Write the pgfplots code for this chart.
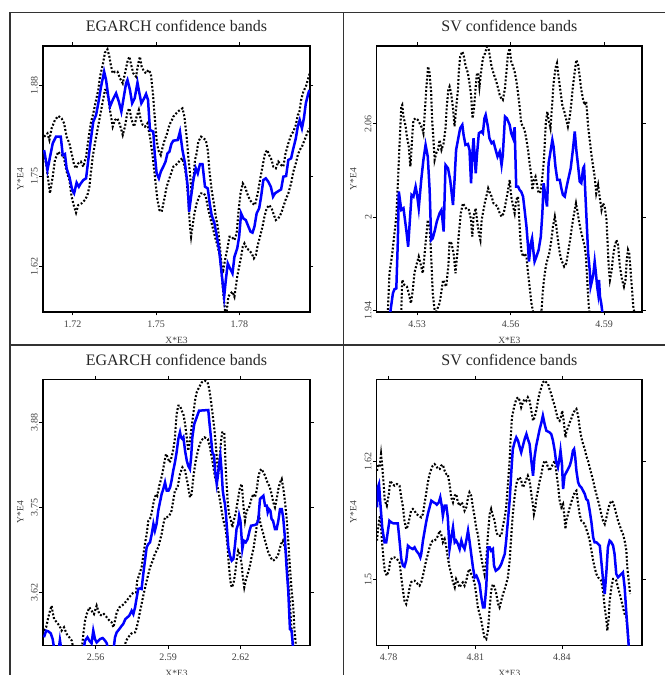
\documentclass[border=0pt]{standalone}
\usepackage{pgfplots}
\pgfplotsset{compat=1.18}
\usepackage{fontspec}
\setmainfont{Liberation Serif}
\pgfplotsset{
  panel/.style={
    scale only axis, height=266pt, anchor=south west,
    tick align=outside, tick pos=both, major tick length=3.5pt,
    axis line style={line width=1.1pt},
    every tick/.style={line width=0.9pt, black},
    tick label style={font=\fontsize{10}{12}\selectfont, text=black!75},
    yticklabel style={rotate=90, anchor=south, inner sep=1.5pt},
    xticklabel style={anchor=north, inner sep=2pt, yshift=-3pt},
    title style={at={(0.5,1)}, anchor=base, yshift=8pt, font=\fontsize{16}{18}\selectfont, text=black!85},
    xlabel style={at={(axis description cs:0.5,-0.105)}, anchor=center, font=\fontsize{9.5}{11}\selectfont, text=black!75},
    ylabel style={at={(axis description cs:-0.085,0.5)}, anchor=center, font=\fontsize{9.5}{11}\selectfont, text=black!75},
    xlabel={X*E3}, ylabel={Y*E4},
    /pgf/number format/assume math mode=true,
  },
  band/.style={black, line width=2.1pt, dash pattern=on 1.9pt off 1.9pt, no markers},
  est/.style={blue, line width=2.5pt, no markers},
}
\begin{document}
\begin{tikzpicture}[x=1pt,y=1pt]
\path[use as bounding box] (0,0) rectangle (665,675);
% ---------------- Panel 1 ----------------
\begin{scope}
\clip (10,330) rectangle (343.3,662.7);
\begin{axis}[panel, at={(43pt,363pt)}, width=267pt,
  title={EGARCH confidence bands},
  xmin=1.7093, xmax=1.8054, ymin=1.5547, ymax=1.9367,
  xtick={1.72,1.75,1.78}, xticklabels={1.72,1.75,1.78},
  ytick={1.62,1.75,1.88}, yticklabels={1.62,1.75,1.88}]
\addplot[band] coordinates {(1.7097,1.8065)(1.7109,1.8113)(1.7116,1.8017)(1.7124,1.8185)(1.7136,1.8304)(1.7148,1.8362)(1.7160,1.8328)(1.7169,1.8256)(1.7178,1.8065)(1.7188,1.7969)(1.7196,1.7825)(1.7205,1.7658)(1.7212,1.7610)(1.7220,1.7682)(1.7229,1.7706)(1.7238,1.7634)(1.7248,1.7777)(1.7256,1.8017)(1.7265,1.8256)(1.7274,1.8400)(1.7284,1.8592)(1.7292,1.8735)(1.7298,1.8927)(1.7308,1.9095)(1.7316,1.9272)(1.7325,1.9320)(1.7332,1.9214)(1.7337,1.9095)(1.7344,1.8975)(1.7352,1.8999)(1.7361,1.8999)(1.7370,1.8903)(1.7380,1.8831)(1.7388,1.8975)(1.7397,1.9143)(1.7404,1.9214)(1.7409,1.9119)(1.7418,1.8975)(1.7428,1.8927)(1.7436,1.9119)(1.7442,1.9214)(1.7448,1.9071)(1.7457,1.8999)(1.7464,1.8975)(1.7472,1.9023)(1.7481,1.8975)(1.7488,1.8712)(1.7497,1.8256)(1.7502,1.8017)(1.7508,1.7873)(1.7517,1.7801)(1.7524,1.7921)(1.7531,1.8017)(1.7538,1.8089)(1.7548,1.8233)(1.7557,1.8304)(1.7562,1.8352)(1.7578,1.8424)(1.7586,1.8448)(1.7595,1.8472)(1.7602,1.8352)(1.7610,1.8065)(1.7616,1.7777)(1.7622,1.7538)(1.7628,1.7251)(1.7634,1.7442)(1.7640,1.7730)(1.7646,1.7825)(1.7652,1.7993)(1.7662,1.8065)(1.7670,1.8041)(1.7679,1.8017)(1.7686,1.7873)(1.7693,1.7538)(1.7700,1.7298)(1.7708,1.7107)(1.7715,1.6915)(1.7722,1.6772)(1.7730,1.6484)(1.7736,1.6197)(1.7742,1.6149)(1.7748,1.6293)(1.7758,1.6484)(1.7764,1.6628)(1.7772,1.6628)(1.7782,1.6580)(1.7790,1.6676)(1.7796,1.6963)(1.7804,1.7251)(1.7812,1.7394)(1.7820,1.7346)(1.7830,1.7227)(1.7838,1.7155)(1.7847,1.7107)(1.7856,1.7083)(1.7866,1.7251)(1.7874,1.7442)(1.7883,1.7634)(1.7892,1.7825)(1.7900,1.7873)(1.7907,1.7801)(1.7916,1.7730)(1.7922,1.7634)(1.7931,1.7610)(1.7940,1.7706)(1.7950,1.7658)(1.7958,1.7634)(1.7966,1.7825)(1.7976,1.7969)(1.7986,1.8089)(1.7994,1.8137)(1.8003,1.8233)(1.8010,1.8376)(1.8015,1.8400)(1.8022,1.8592)(1.8030,1.8712)(1.8039,1.8783)(1.8046,1.8879)(1.8053,1.8975)};
\addplot[band] coordinates {(1.7097,1.7825)(1.7106,1.7634)(1.7112,1.7442)(1.7118,1.7251)(1.7128,1.7490)(1.7136,1.7730)(1.7148,1.7849)(1.7157,1.7801)(1.7166,1.7801)(1.7172,1.7682)(1.7178,1.7562)(1.7188,1.7442)(1.7196,1.7203)(1.7205,1.7059)(1.7212,1.6973)(1.7220,1.7083)(1.7232,1.7107)(1.7244,1.7155)(1.7253,1.7227)(1.7260,1.7346)(1.7265,1.7538)(1.7272,1.7777)(1.7280,1.7969)(1.7289,1.8161)(1.7298,1.8352)(1.7308,1.8568)(1.7316,1.8735)(1.7322,1.8735)(1.7328,1.8616)(1.7334,1.8448)(1.7344,1.8209)(1.7352,1.8304)(1.7361,1.8328)(1.7370,1.8233)(1.7380,1.8089)(1.7388,1.8209)(1.7397,1.8424)(1.7404,1.8472)(1.7412,1.8304)(1.7421,1.8209)(1.7430,1.8352)(1.7438,1.8448)(1.7445,1.8304)(1.7452,1.8233)(1.7460,1.8209)(1.7469,1.8256)(1.7478,1.8065)(1.7488,1.7777)(1.7497,1.7442)(1.7505,1.7155)(1.7512,1.7011)(1.7520,1.6987)(1.7529,1.7155)(1.7538,1.7346)(1.7550,1.7490)(1.7562,1.7634)(1.7578,1.7680)(1.7586,1.7730)(1.7595,1.7754)(1.7604,1.7610)(1.7610,1.7442)(1.7616,1.7155)(1.7622,1.6772)(1.7626,1.6628)(1.7632,1.6796)(1.7638,1.6963)(1.7646,1.7107)(1.7655,1.7203)(1.7662,1.7251)(1.7672,1.7251)(1.7679,1.7203)(1.7686,1.7059)(1.7694,1.6915)(1.7703,1.6772)(1.7712,1.6628)(1.7722,1.6484)(1.7730,1.6340)(1.7736,1.6101)(1.7742,1.5814)(1.7748,1.5574)(1.7754,1.5550)(1.7760,1.5766)(1.7768,1.5814)(1.7775,1.5838)(1.7782,1.5766)(1.7787,1.5909)(1.7792,1.6053)(1.7799,1.6197)(1.7806,1.6340)(1.7812,1.6484)(1.7818,1.6532)(1.7826,1.6460)(1.7835,1.6436)(1.7844,1.6388)(1.7852,1.6317)(1.7859,1.6364)(1.7866,1.6508)(1.7874,1.6628)(1.7883,1.6772)(1.7890,1.6915)(1.7898,1.7035)(1.7907,1.7083)(1.7916,1.7035)(1.7924,1.6939)(1.7931,1.6867)(1.7940,1.6891)(1.7950,1.6963)(1.7958,1.7059)(1.7966,1.7155)(1.7976,1.7251)(1.7986,1.7394)(1.7994,1.7562)(1.8003,1.7682)(1.8010,1.7801)(1.8017,1.7873)(1.8025,1.7921)(1.8032,1.7993)(1.8039,1.8065)(1.8046,1.8137)(1.8053,1.8185)};
\addplot[est] coordinates {(1.7097,1.7873)(1.7109,1.7586)(1.7128,1.7969)(1.7140,1.8065)(1.7157,1.8065)(1.7164,1.7801)(1.7172,1.7816)(1.7178,1.7610)(1.7188,1.7490)(1.7198,1.7298)(1.7205,1.7251)(1.7214,1.7404)(1.7222,1.7346)(1.7229,1.7394)(1.7238,1.7442)(1.7248,1.7466)(1.7256,1.7730)(1.7265,1.8017)(1.7274,1.8280)(1.7284,1.8376)(1.7292,1.8544)(1.7302,1.8783)(1.7313,1.8999)(1.7320,1.8879)(1.7328,1.8640)(1.7334,1.8496)(1.7344,1.8592)(1.7356,1.8688)(1.7366,1.8568)(1.7375,1.8424)(1.7382,1.8592)(1.7392,1.8831)(1.7397,1.8879)(1.7406,1.8735)(1.7414,1.8544)(1.7423,1.8616)(1.7433,1.8841)(1.7440,1.8688)(1.7447,1.8544)(1.7457,1.8616)(1.7464,1.8678)(1.7471,1.8592)(1.7478,1.8161)(1.7490,1.8137)(1.7495,1.7825)(1.7502,1.7538)(1.7510,1.7466)(1.7517,1.7562)(1.7526,1.7634)(1.7534,1.7706)(1.7541,1.7825)(1.7548,1.7849)(1.7555,1.7960)(1.7562,1.8007)(1.7578,1.8017)(1.7586,1.8137)(1.7595,1.7873)(1.7604,1.7682)(1.7614,1.7346)(1.7619,1.6987)(1.7626,1.7203)(1.7634,1.7442)(1.7643,1.7610)(1.7650,1.7538)(1.7658,1.7672)(1.7667,1.7672)(1.7676,1.7346)(1.7686,1.7322)(1.7693,1.7107)(1.7700,1.6939)(1.7710,1.6819)(1.7718,1.6652)(1.7727,1.6436)(1.7736,1.6101)(1.7745,1.5766)(1.7751,1.6005)(1.7758,1.6245)(1.7766,1.6173)(1.7775,1.6101)(1.7782,1.6340)(1.7792,1.6460)(1.7799,1.6628)(1.7806,1.6963)(1.7814,1.6891)(1.7823,1.6867)(1.7830,1.6796)(1.7840,1.6700)(1.7847,1.6686)(1.7854,1.6772)(1.7862,1.6963)(1.7871,1.7035)(1.7878,1.7203)(1.7886,1.7442)(1.7895,1.7466)(1.7904,1.7418)(1.7913,1.7346)(1.7921,1.7203)(1.7928,1.7251)(1.7937,1.7275)(1.7950,1.7308)(1.7958,1.7490)(1.7968,1.7500)(1.7976,1.7730)(1.7986,1.7754)(1.7994,1.7897)(1.8003,1.8041)(1.8010,1.8209)(1.8017,1.8304)(1.8025,1.8185)(1.8032,1.8328)(1.8039,1.8544)(1.8048,1.8688)(1.8052,1.8735)};
\end{axis}
\end{scope}
% ---------------- Panel 2 ----------------
\begin{scope}
\clip (343.3,330) rectangle (665,662.7);
\begin{axis}[panel, at={(376.7pt,363pt)}, width=265.3pt,
  title={SV confidence bands},
  ylabel style={at={(axis description cs:-0.088,0.5)}},
  xmin=4.5170, xmax=4.6022, ymin=1.9391, ymax=2.1101,
  xtick={4.53,4.56,4.59}, xticklabels={4.53,4.56,4.59},
  ytick={1.94,2,2.06}, yticklabels={1.94,2,2.06}]
\addplot[band] coordinates {(4.5206,1.9404)(4.5211,1.9640)(4.5220,1.9768)(4.5227,1.9897)(4.5233,2.0004)(4.5238,2.0219)(4.5243,2.0454)(4.5249,2.0711)(4.5252,2.0722)(4.5256,2.0647)(4.5263,2.0583)(4.5267,2.0519)(4.5273,2.0454)(4.5278,2.0326)(4.5281,2.0411)(4.5284,2.0519)(4.5288,2.0626)(4.5295,2.0636)(4.5302,2.0626)(4.5308,2.0604)(4.5316,2.0572)(4.5320,2.0540)(4.5325,2.0690)(4.5329,2.0819)(4.5335,2.0969)(4.5340,2.0926)(4.5345,2.0797)(4.5348,2.0626)(4.5353,2.0476)(4.5356,2.0369)(4.5361,2.0411)(4.5367,2.0433)(4.5372,2.0497)(4.5378,2.0433)(4.5385,2.0476)(4.5391,2.0572)(4.5395,2.0711)(4.5400,2.0819)(4.5404,2.0840)(4.5409,2.0797)(4.5415,2.0701)(4.5420,2.0583)(4.5425,2.0701)(4.5431,2.0819)(4.5434,2.0947)(4.5438,2.1033)(4.5445,2.1065)(4.5449,2.1044)(4.5455,2.0979)(4.5463,2.0926)(4.5468,2.0861)(4.5473,2.0786)(4.5478,2.0636)(4.5483,2.0711)(4.5487,2.0819)(4.5492,2.0926)(4.5496,2.0926)(4.5500,2.0840)(4.5506,2.0947)(4.5511,2.1022)(4.5518,2.1054)(4.5524,2.1097)(4.5530,2.1076)(4.5538,2.0979)(4.5545,2.0926)(4.5554,2.0872)(4.5560,2.0829)(4.5565,2.0786)(4.5570,2.0765)(4.5575,2.0754)(4.5582,2.0829)(4.5588,2.0969)(4.5592,2.1054)(4.5597,2.1086)(4.5602,2.1001)(4.5608,2.0969)(4.5613,2.0936)(4.5618,2.0883)(4.5624,2.0797)(4.5629,2.0711)(4.5634,2.0604)(4.5640,2.0583)(4.5645,2.0561)(4.5651,2.0497)(4.5656,2.0433)(4.5661,2.0347)(4.5667,2.0261)(4.5670,2.0176)(4.5675,2.0240)(4.5680,2.0261)(4.5684,2.0219)(4.5690,2.0154)(4.5696,2.0165)(4.5701,2.0240)(4.5707,2.0369)(4.5713,2.0604)(4.5718,2.0679)(4.5722,2.0626)(4.5728,2.0572)(4.5733,2.0711)(4.5738,2.0861)(4.5744,2.0958)(4.5749,2.0990)(4.5754,2.0904)(4.5761,2.0797)(4.5766,2.0722)(4.5774,2.0669)(4.5779,2.0626)(4.5784,2.0583)(4.5790,2.0647)(4.5795,2.0733)(4.5800,2.0840)(4.5806,2.0936)(4.5811,2.1011)(4.5817,2.0979)(4.5822,2.0904)(4.5827,2.0819)(4.5833,2.0754)(4.5838,2.0722)(4.5843,2.0744)(4.5849,2.0583)(4.5854,2.0497)(4.5859,2.0411)(4.5865,2.0326)(4.5870,2.0261)(4.5875,2.0154)(4.5881,2.0208)(4.5886,2.0133)(4.5892,2.0047)(4.5897,2.0090)(4.5902,2.0069)(4.5908,1.9983)(4.5911,1.9854)(4.5915,1.9683)(4.5919,1.9597)(4.5924,1.9651)(4.5929,1.9747)(4.5934,1.9811)(4.5940,1.9854)(4.5945,1.9822)(4.5951,1.9683)(4.5958,1.9597)(4.5964,1.9554)(4.5969,1.9597)(4.5973,1.9726)(4.5977,1.9790)(4.5981,1.9768)(4.5986,1.9640)(4.5990,1.9533)(4.5994,1.9426)(4.5998,1.9380)};
\addplot[band] coordinates {(4.5249,1.9404)(4.5252,1.9597)(4.5259,1.9565)(4.5267,1.9554)(4.5273,1.9511)(4.5280,1.9447)(4.5286,1.9533)(4.5291,1.9640)(4.5299,1.9704)(4.5305,1.9747)(4.5313,1.9683)(4.5318,1.9640)(4.5324,1.9768)(4.5329,1.9876)(4.5334,1.9983)(4.5340,1.9940)(4.5345,1.9747)(4.5350,1.9511)(4.5356,1.9404)(4.5361,1.9393)(4.5372,1.9447)(4.5377,1.9511)(4.5383,1.9597)(4.5388,1.9576)(4.5393,1.9554)(4.5400,1.9683)(4.5404,1.9843)(4.5410,1.9833)(4.5417,1.9768)(4.5423,1.9640)(4.5428,1.9747)(4.5434,1.9897)(4.5440,2.0026)(4.5447,2.0090)(4.5453,2.0069)(4.5460,2.0047)(4.5466,2.0047)(4.5473,1.9983)(4.5477,1.9876)(4.5481,2.0004)(4.5488,2.0058)(4.5492,1.9983)(4.5498,1.9897)(4.5503,1.9854)(4.5507,1.9983)(4.5511,2.0026)(4.5518,2.0101)(4.5522,2.0133)(4.5528,2.0186)(4.5532,2.0165)(4.5539,2.0133)(4.5545,2.0090)(4.5552,2.0079)(4.5558,2.0069)(4.5565,2.0026)(4.5571,2.0004)(4.5578,2.0026)(4.5584,2.0090)(4.5590,2.0154)(4.5597,2.0240)(4.5602,2.0133)(4.5608,2.0069)(4.5613,2.0026)(4.5618,2.0111)(4.5624,2.0133)(4.5629,1.9940)(4.5634,1.9790)(4.5640,1.9747)(4.5645,1.9768)(4.5651,1.9747)(4.5656,1.9640)(4.5661,1.9554)(4.5667,1.9447)(4.5672,1.9393)(4.5683,1.9383)(4.5699,1.9393)(4.5703,1.9511)(4.5707,1.9597)(4.5713,1.9683)(4.5718,1.9726)(4.5724,1.9768)(4.5731,1.9854)(4.5736,1.9940)(4.5742,2.0004)(4.5747,1.9940)(4.5752,1.9854)(4.5758,1.9768)(4.5763,1.9726)(4.5772,1.9683)(4.5779,1.9704)(4.5784,1.9768)(4.5791,1.9854)(4.5797,1.9940)(4.5804,2.0026)(4.5810,2.0090)(4.5814,2.0047)(4.5819,1.9983)(4.5825,1.9918)(4.5833,1.9854)(4.5838,1.9811)(4.5842,1.9747)(4.5846,1.9597)(4.5851,1.9426)(4.5855,1.9361)};
\addplot[est] coordinates {(4.5213,1.9380)(4.5222,1.9511)(4.5227,1.9537)(4.5233,1.9543)(4.5238,1.9854)(4.5241,2.0165)(4.5249,2.0047)(4.5256,2.0058)(4.5265,1.9918)(4.5271,1.9811)(4.5278,2.0026)(4.5282,2.0144)(4.5288,2.0133)(4.5295,2.0197)(4.5299,2.0154)(4.5305,2.0058)(4.5313,2.0240)(4.5320,2.0369)(4.5327,2.0465)(4.5334,2.0390)(4.5340,2.0176)(4.5345,1.9854)(4.5350,1.9865)(4.5357,1.9918)(4.5363,1.9972)(4.5372,2.0026)(4.5378,2.0047)(4.5385,1.9908)(4.5391,2.0336)(4.5399,2.0315)(4.5406,2.0240)(4.5415,2.0079)(4.5420,2.0240)(4.5425,2.0433)(4.5432,2.0508)(4.5438,2.0572)(4.5445,2.0594)(4.5449,2.0529)(4.5455,2.0465)(4.5463,2.0471)(4.5468,2.0433)(4.5473,2.0219)(4.5477,2.0401)(4.5481,2.0508)(4.5488,2.0283)(4.5492,2.0401)(4.5498,2.0540)(4.5506,2.0551)(4.5511,2.0540)(4.5516,2.0636)(4.5520,2.0658)(4.5527,2.0583)(4.5532,2.0508)(4.5539,2.0476)(4.5545,2.0486)(4.5552,2.0433)(4.5558,2.0390)(4.5565,2.0422)(4.5571,2.0336)(4.5575,2.0401)(4.5582,2.0647)(4.5588,2.0636)(4.5597,2.0594)(4.5602,2.0540)(4.5608,2.0508)(4.5613,2.0579)(4.5618,2.0197)(4.5624,2.0197)(4.5629,2.0176)(4.5634,2.0165)(4.5640,2.0133)(4.5645,2.0047)(4.5651,1.9940)(4.5656,1.9811)(4.5659,1.9715)(4.5665,1.9833)(4.5669,1.9865)(4.5674,1.9768)(4.5677,1.9715)(4.5683,1.9747)(4.5690,1.9790)(4.5697,1.9876)(4.5702,2.0026)(4.5706,2.0219)(4.5712,2.0133)(4.5717,2.0069)(4.5722,2.0347)(4.5729,2.0433)(4.5734,2.0497)(4.5738,2.0454)(4.5744,2.0326)(4.5750,2.0240)(4.5758,2.0240)(4.5763,2.0186)(4.5768,2.0144)(4.5774,2.0133)(4.5780,2.0197)(4.5787,2.0261)(4.5793,2.0315)(4.5800,2.0433)(4.5806,2.0551)(4.5811,2.0433)(4.5817,2.0326)(4.5822,2.0229)(4.5827,2.0219)(4.5833,2.0315)(4.5836,2.0326)(4.5840,2.0154)(4.5845,1.9940)(4.5849,1.9768)(4.5854,1.9661)(4.5857,1.9554)(4.5862,1.9597)(4.5866,1.9640)(4.5870,1.9715)(4.5874,1.9640)(4.5878,1.9554)(4.5881,1.9511)(4.5884,1.9597)(4.5887,1.9490)(4.5891,1.9447)(4.5895,1.9383)};
\end{axis}
\end{scope}
% ---------------- Panel 3 ----------------
\begin{scope}
\clip (10,0) rectangle (343.3,330);
\begin{axis}[panel, at={(43pt,29.7pt)}, width=267pt,
  title={EGARCH confidence bands},
  xmin=2.5382, xmax=2.6487, ymin=3.5390, ymax=3.9458,
  xtick={2.56,2.59,2.62}, xticklabels={2.56,2.59,2.62},
  ytick={3.62,3.75,3.88}, yticklabels={3.62,3.75,3.88}]
\addplot[band] coordinates {(2.5386,3.5614)(2.5395,3.5665)(2.5404,3.5818)(2.5411,3.5919)(2.5418,3.5996)(2.5422,3.5894)(2.5428,3.5792)(2.5439,3.5741)(2.5450,3.5690)(2.5459,3.5614)(2.5469,3.5665)(2.5480,3.5563)(2.5491,3.5512)(2.5501,3.5461)(2.5510,3.530)(2.5542,3.530)(2.5549,3.5563)(2.5556,3.5767)(2.5563,3.5868)(2.5574,3.5970)(2.5583,3.5919)(2.5593,3.5868)(2.5604,3.5996)(2.5615,3.5868)(2.5625,3.5843)(2.5634,3.5868)(2.5646,3.5818)(2.5657,3.5767)(2.5666,3.5741)(2.5673,3.5665)(2.5680,3.5767)(2.5687,3.5894)(2.5698,3.5970)(2.5708,3.5996)(2.5717,3.6021)(2.5728,3.6072)(2.5739,3.6123)(2.5749,3.6174)(2.5759,3.6200)(2.5767,3.6200)(2.5772,3.6378)(2.5781,3.6480)(2.5790,3.6582)(2.5797,3.6761)(2.5804,3.6939)(2.5811,3.7092)(2.5818,3.7296)(2.5828,3.7347)(2.5836,3.7500)(2.5841,3.7602)(2.5850,3.7704)(2.5855,3.7678)(2.5863,3.7831)(2.5869,3.7908)(2.5877,3.8035)(2.5883,3.8163)(2.5891,3.8316)(2.5898,3.8264)(2.5905,3.8188)(2.5910,3.8214)(2.5919,3.8341)(2.5927,3.8520)(2.5935,3.8927)(2.5942,3.9055)(2.5949,3.9055)(2.5956,3.8978)(2.5963,3.8927)(2.5970,3.8774)(2.5977,3.8570)(2.5983,3.8366)(2.5990,3.8519)(2.5997,3.8723)(2.6004,3.8927)(2.6011,3.9131)(2.6018,3.9259)(2.6028,3.9335)(2.6039,3.9412)(2.6052,3.9437)(2.6063,3.9412)(2.6070,3.9310)(2.6077,3.9131)(2.6084,3.8927)(2.6091,3.8698)(2.6097,3.8468)(2.6102,3.8214)(2.6108,3.8010)(2.6113,3.8264)(2.6119,3.8519)(2.6124,3.8647)(2.6132,3.8647)(2.6135,3.8417)(2.6138,3.8112)(2.6142,3.7857)(2.6146,3.7602)(2.6152,3.7398)(2.6160,3.7296)(2.6166,3.7194)(2.6171,3.7296)(2.6179,3.7398)(2.6188,3.7602)(2.6196,3.7780)(2.6204,3.7857)(2.6208,3.7704)(2.6212,3.7500)(2.6218,3.7296)(2.6225,3.7449)(2.6232,3.7474)(2.6239,3.7551)(2.6246,3.7653)(2.6254,3.7704)(2.6259,3.7653)(2.6266,3.7755)(2.6273,3.7959)(2.6280,3.8061)(2.6287,3.8086)(2.6294,3.8035)(2.6301,3.7984)(2.6308,3.7908)(2.6314,3.7857)(2.6321,3.7806)(2.6328,3.7704)(2.6335,3.7576)(2.6342,3.7500)(2.6349,3.7627)(2.6356,3.7780)(2.6363,3.7882)(2.6370,3.7933)(2.6376,3.7806)(2.6383,3.7602)(2.6390,3.7347)(2.6397,3.6990)(2.6404,3.6582)(2.6411,3.6225)(2.6418,3.5970)(2.6422,3.5665)(2.6428,3.5410)(2.6432,3.530)};
\addplot[band] coordinates {(2.5714,3.530)(2.5726,3.5461)(2.5735,3.5512)(2.5745,3.5563)(2.5756,3.5588)(2.5763,3.5588)(2.5770,3.5665)(2.5776,3.5767)(2.5783,3.5894)(2.5790,3.6021)(2.5797,3.6149)(2.5808,3.6327)(2.5818,3.6480)(2.5825,3.6582)(2.5836,3.6684)(2.5845,3.6786)(2.5852,3.6837)(2.5859,3.6888)(2.5866,3.6990)(2.5873,3.7092)(2.5880,3.7245)(2.5887,3.7347)(2.5894,3.7347)(2.5905,3.7372)(2.5914,3.7449)(2.5921,3.7602)(2.5928,3.7755)(2.5939,3.7806)(2.5949,3.8010)(2.5959,3.8112)(2.5970,3.8061)(2.5981,3.7857)(2.5990,3.7653)(2.5997,3.7704)(2.6004,3.7959)(2.6014,3.8214)(2.6025,3.8392)(2.6036,3.8519)(2.6050,3.8570)(2.6064,3.8545)(2.6073,3.8417)(2.6083,3.8214)(2.6094,3.7959)(2.6102,3.7857)(2.6110,3.7704)(2.6119,3.7500)(2.6126,3.7347)(2.6132,3.7245)(2.6139,3.7143)(2.6146,3.6888)(2.6152,3.6582)(2.6157,3.6378)(2.6163,3.6276)(2.6170,3.6327)(2.6177,3.6480)(2.6183,3.6684)(2.6190,3.6837)(2.6197,3.6786)(2.6204,3.6633)(2.6209,3.6429)(2.6215,3.6276)(2.6221,3.6378)(2.6229,3.6480)(2.6237,3.6582)(2.6245,3.6735)(2.6254,3.6888)(2.6262,3.7092)(2.6270,3.7296)(2.6276,3.7398)(2.6281,3.7270)(2.6290,3.7143)(2.6301,3.6990)(2.6312,3.6837)(2.6323,3.6735)(2.6334,3.6684)(2.6345,3.6710)(2.6356,3.6786)(2.6367,3.6939)(2.6375,3.6990)(2.6383,3.6888)(2.6392,3.6684)(2.6397,3.6378)(2.6403,3.6072)(2.6408,3.5767)(2.6414,3.5461)(2.6418,3.530)};
\addplot[est] coordinates {(2.5386,3.5512)(2.5395,3.5614)(2.5404,3.5603)(2.5414,3.5573)(2.5422,3.5486)(2.5430,3.530)(2.5446,3.530)(2.5452,3.5471)(2.5459,3.530)(2.5549,3.530)(2.5556,3.5461)(2.5566,3.5512)(2.5574,3.5461)(2.5583,3.5420)(2.5590,3.5614)(2.5597,3.5486)(2.5604,3.5435)(2.5618,3.5486)(2.5629,3.5501)(2.5639,3.5461)(2.5646,3.5420)(2.5652,3.530)(2.5673,3.530)(2.5680,3.5512)(2.5687,3.5588)(2.5698,3.5639)(2.5708,3.5690)(2.5714,3.5716)(2.5723,3.5792)(2.5731,3.5817)(2.5739,3.5843)(2.5749,3.5919)(2.5756,3.5868)(2.5763,3.5970)(2.5770,3.6123)(2.5776,3.6251)(2.5783,3.6261)(2.5790,3.6251)(2.5797,3.6480)(2.5804,3.6684)(2.5811,3.6888)(2.5818,3.6939)(2.5825,3.6965)(2.5832,3.7092)(2.5839,3.7245)(2.5845,3.7143)(2.5852,3.7245)(2.5859,3.7449)(2.5866,3.7576)(2.5873,3.7704)(2.5880,3.7780)(2.5887,3.7882)(2.5894,3.7755)(2.5901,3.7755)(2.5908,3.7806)(2.5914,3.7908)(2.5921,3.8061)(2.5928,3.8188)(2.5935,3.8341)(2.5942,3.8545)(2.5949,3.8647)(2.5953,3.8570)(2.5959,3.8545)(2.5963,3.8570)(2.5970,3.8366)(2.5977,3.8214)(2.5983,3.8137)(2.5990,3.8086)(2.5995,3.8264)(2.6000,3.8570)(2.6008,3.8774)(2.6018,3.8876)(2.6028,3.8978)(2.6066,3.8988)(2.6070,3.8825)(2.6077,3.8570)(2.6083,3.8341)(2.6090,3.8290)(2.6094,3.8061)(2.6101,3.7857)(2.6105,3.7959)(2.6110,3.8137)(2.6116,3.8290)(2.6121,3.8061)(2.6126,3.7755)(2.6131,3.7627)(2.6135,3.7551)(2.6139,3.7398)(2.6143,3.7194)(2.6149,3.6888)(2.6156,3.6761)(2.6163,3.6684)(2.6170,3.6710)(2.6177,3.6939)(2.6183,3.7168)(2.6190,3.7245)(2.6194,3.7372)(2.6199,3.7296)(2.6202,3.7143)(2.6207,3.6863)(2.6213,3.6990)(2.6221,3.6965)(2.6229,3.7016)(2.6237,3.7143)(2.6243,3.7219)(2.6259,3.7230)(2.6266,3.7245)(2.6273,3.7296)(2.6280,3.7627)(2.6287,3.7653)(2.6294,3.7678)(2.6301,3.7525)(2.6308,3.7525)(2.6312,3.7423)(2.6317,3.7474)(2.6323,3.7449)(2.6328,3.7321)(2.6334,3.7296)(2.6342,3.7168)(2.6349,3.7168)(2.6356,3.7296)(2.6363,3.7474)(2.6370,3.7474)(2.6376,3.7347)(2.6383,3.7041)(2.6390,3.6582)(2.6397,3.6225)(2.6400,3.5970)(2.6404,3.5639)(2.6411,3.5614)(2.6418,3.530)};
\end{axis}
\end{scope}
% ---------------- Panel 4 ----------------
\begin{scope}
\clip (343.3,0) rectangle (665,330);
\begin{axis}[panel, at={(376.7pt,29.7pt)}, width=265.3pt,
  title={SV confidence bands},
  ylabel style={at={(axis description cs:-0.088,0.5)}},
  xmin=4.7759, xmax=4.8677, ymin=1.4335, ymax=1.7032,
  xtick={4.78,4.81,4.84}, xticklabels={4.78,4.81,4.84},
  ytick={1.5,1.62}, yticklabels={1.5,1.62}]
\addplot[band] coordinates {(4.7760,1.6105)(4.7763,1.6173)(4.7769,1.6139)(4.7774,1.6274)(4.7778,1.6156)(4.7783,1.5970)(4.7787,1.5801)(4.7794,1.5750)(4.7801,1.5869)(4.7806,1.6004)(4.7813,1.5970)(4.7821,1.5953)(4.7829,1.5970)(4.7838,1.5953)(4.7844,1.5835)(4.7850,1.5734)(4.7855,1.5598)(4.7861,1.5514)(4.7867,1.5548)(4.7873,1.5632)(4.7878,1.5700)(4.7884,1.5717)(4.7890,1.5700)(4.7896,1.5666)(4.7905,1.5649)(4.7913,1.5632)(4.7919,1.5666)(4.7925,1.5784)(4.7930,1.5869)(4.7936,1.5987)(4.7942,1.6071)(4.7948,1.6122)(4.7953,1.6156)(4.7959,1.6173)(4.7965,1.6156)(4.7971,1.6122)(4.7977,1.6122)(4.7982,1.6156)(4.7988,1.6166)(4.7994,1.6105)(4.8000,1.6071)(4.8005,1.6071)(4.8011,1.5970)(4.8017,1.5835)(4.8023,1.5784)(4.8029,1.5852)(4.8034,1.5869)(4.8040,1.5784)(4.8046,1.5750)(4.8052,1.5784)(4.8057,1.5767)(4.8063,1.5700)(4.8069,1.5734)(4.8075,1.5835)(4.8080,1.5886)(4.8086,1.5852)(4.8092,1.5734)(4.8098,1.5632)(4.8104,1.5514)(4.8109,1.5463)(4.8115,1.5328)(4.8121,1.5226)(4.8127,1.5125)(4.8132,1.5058)(4.8138,1.5193)(4.8144,1.5463)(4.8150,1.5666)(4.8155,1.5717)(4.8161,1.5649)(4.8167,1.5598)(4.8173,1.5480)(4.8179,1.5446)(4.8190,1.5446)(4.8196,1.5548)(4.8202,1.5632)(4.8207,1.5734)(4.8213,1.5970)(4.8219,1.6207)(4.8222,1.6409)(4.8227,1.6646)(4.8234,1.6748)(4.8242,1.6832)(4.8248,1.6849)(4.8254,1.6815)(4.8259,1.6748)(4.8265,1.6798)(4.8271,1.6832)(4.8277,1.6815)(4.8282,1.6849)(4.8288,1.6815)(4.8294,1.6714)(4.8300,1.6612)(4.8305,1.6646)(4.8311,1.6714)(4.8317,1.6815)(4.8323,1.6900)(4.8329,1.6950)(4.8334,1.7001)(4.8340,1.7018)(4.8346,1.7001)(4.8352,1.6984)(4.8357,1.6933)(4.8363,1.6883)(4.8369,1.6815)(4.8375,1.6764)(4.8380,1.6697)(4.8386,1.6629)(4.8392,1.6612)(4.8398,1.6663)(4.8401,1.6714)(4.8406,1.6612)(4.8412,1.6443)(4.8415,1.6494)(4.8421,1.6545)(4.8427,1.6595)(4.8432,1.6629)(4.8438,1.6680)(4.8444,1.6714)(4.8450,1.6731)(4.8456,1.6663)(4.8461,1.6545)(4.8467,1.6443)(4.8473,1.6376)(4.8479,1.6325)(4.8484,1.6257)(4.8490,1.6207)(4.8496,1.6139)(4.8502,1.6071)(4.8508,1.6004)(4.8513,1.5936)(4.8519,1.5869)(4.8525,1.5801)(4.8531,1.5734)(4.8536,1.5666)(4.8542,1.5598)(4.8548,1.5564)(4.8554,1.5632)(4.8559,1.5700)(4.8565,1.5767)(4.8571,1.5801)(4.8577,1.5784)(4.8582,1.5734)(4.8588,1.5666)(4.8594,1.5598)(4.8600,1.5548)(4.8606,1.5497)(4.8611,1.5463)(4.8617,1.5396)(4.8623,1.5294)(4.8626,1.5125)(4.8631,1.4990)(4.8636,1.4855)};
\addplot[band] coordinates {(4.7760,1.5396)(4.7763,1.5497)(4.7767,1.5598)(4.7771,1.5649)(4.7774,1.5531)(4.7778,1.5362)(4.7783,1.5193)(4.7787,1.5091)(4.7794,1.5041)(4.7801,1.5091)(4.7806,1.5193)(4.7813,1.5226)(4.7821,1.5226)(4.7829,1.5210)(4.7838,1.5176)(4.7844,1.5024)(4.7850,1.4889)(4.7855,1.4787)(4.7861,1.4754)(4.7867,1.4821)(4.7873,1.4922)(4.7878,1.4973)(4.7884,1.4990)(4.7890,1.4990)(4.7896,1.4973)(4.7901,1.4956)(4.7907,1.4939)(4.7913,1.4973)(4.7919,1.5041)(4.7925,1.5125)(4.7930,1.5193)(4.7936,1.5260)(4.7942,1.5328)(4.7948,1.5379)(4.7953,1.5396)(4.7959,1.5396)(4.7965,1.5412)(4.7971,1.5446)(4.7977,1.5497)(4.7982,1.5463)(4.7988,1.5379)(4.7994,1.5412)(4.8000,1.5328)(4.8005,1.5226)(4.8011,1.5125)(4.8017,1.5058)(4.8023,1.4973)(4.8029,1.4922)(4.8034,1.5007)(4.8040,1.4973)(4.8046,1.4922)(4.8052,1.4956)(4.8057,1.4973)(4.8063,1.4939)(4.8069,1.4990)(4.8075,1.5074)(4.8080,1.5108)(4.8086,1.5058)(4.8092,1.5024)(4.8098,1.4956)(4.8104,1.4838)(4.8109,1.4720)(4.8115,1.4652)(4.8121,1.4584)(4.8127,1.4483)(4.8132,1.4415)(4.8138,1.4398)(4.8144,1.4483)(4.8150,1.4720)(4.8155,1.4889)(4.8161,1.4956)(4.8167,1.4922)(4.8173,1.4855)(4.8179,1.4754)(4.8184,1.4720)(4.8190,1.4787)(4.8196,1.4855)(4.8202,1.4905)(4.8207,1.4956)(4.8213,1.5024)(4.8219,1.5193)(4.8225,1.5463)(4.8230,1.5666)(4.8236,1.5835)(4.8242,1.5970)(4.8248,1.6021)(4.8254,1.6038)(4.8259,1.6004)(4.8265,1.5936)(4.8271,1.5970)(4.8277,1.6021)(4.8282,1.6055)(4.8288,1.6004)(4.8294,1.5869)(4.8300,1.5750)(4.8303,1.5666)(4.8308,1.5734)(4.8312,1.5835)(4.8317,1.5903)(4.8323,1.6004)(4.8329,1.6071)(4.8334,1.6156)(4.8340,1.6207)(4.8346,1.6190)(4.8352,1.6139)(4.8357,1.6105)(4.8363,1.6139)(4.8369,1.6173)(4.8375,1.6207)(4.8380,1.6105)(4.8386,1.5970)(4.8392,1.5801)(4.8398,1.5734)(4.8404,1.5767)(4.8409,1.5632)(4.8412,1.5514)(4.8415,1.5598)(4.8421,1.5666)(4.8427,1.5734)(4.8432,1.5784)(4.8438,1.5835)(4.8444,1.5886)(4.8450,1.5903)(4.8456,1.5767)(4.8461,1.5666)(4.8467,1.5598)(4.8473,1.5582)(4.8479,1.5564)(4.8484,1.5514)(4.8490,1.5463)(4.8496,1.5396)(4.8502,1.5294)(4.8508,1.5193)(4.8513,1.5125)(4.8519,1.5058)(4.8525,1.5024)(4.8531,1.5007)(4.8536,1.4990)(4.8542,1.4889)(4.8548,1.4720)(4.8554,1.4584)(4.8557,1.4483)(4.8562,1.4618)(4.8565,1.4787)(4.8571,1.4922)(4.8577,1.5007)(4.8582,1.5007)(4.8588,1.4990)(4.8594,1.4922)(4.8600,1.4855)(4.8606,1.4787)(4.8611,1.4720)(4.8617,1.4652)(4.8623,1.4618)(4.8626,1.4517)(4.8631,1.4348)};
\addplot[est] coordinates {(4.7760,1.5734)(4.7763,1.5936)(4.7767,1.5970)(4.7771,1.5801)(4.7778,1.5531)(4.7786,1.5379)(4.7792,1.5379)(4.7798,1.5497)(4.7803,1.5598)(4.7809,1.5582)(4.7817,1.5571)(4.7832,1.5571)(4.7838,1.5396)(4.7844,1.5210)(4.7850,1.5142)(4.7855,1.5132)(4.7861,1.5193)(4.7867,1.5345)(4.7873,1.5328)(4.7884,1.5311)(4.7890,1.5328)(4.7896,1.5294)(4.7905,1.5260)(4.7910,1.5226)(4.7913,1.5260)(4.7919,1.5396)(4.7925,1.5497)(4.7930,1.5582)(4.7936,1.5666)(4.7942,1.5734)(4.7948,1.5801)(4.7956,1.5784)(4.7963,1.5774)(4.7967,1.5761)(4.7974,1.5784)(4.7979,1.5835)(4.7984,1.5751)(4.7988,1.5649)(4.7994,1.5751)(4.8000,1.5751)(4.8005,1.5632)(4.8011,1.5311)(4.8017,1.5429)(4.8023,1.5531)(4.8029,1.5379)(4.8034,1.5396)(4.8040,1.5362)(4.8046,1.5311)(4.8052,1.5396)(4.8057,1.5345)(4.8063,1.5311)(4.8069,1.5396)(4.8075,1.5497)(4.8080,1.5396)(4.8086,1.5260)(4.8092,1.5125)(4.8098,1.5024)(4.8104,1.5041)(4.8109,1.5007)(4.8115,1.4956)(4.8121,1.4821)(4.8127,1.4720)(4.8132,1.4720)(4.8138,1.4922)(4.8144,1.5328)(4.8150,1.5328)(4.8155,1.5294)(4.8161,1.5311)(4.8165,1.5142)(4.8171,1.5091)(4.8179,1.5108)(4.8184,1.5125)(4.8190,1.5159)(4.8196,1.5210)(4.8202,1.5260)(4.8207,1.5396)(4.8213,1.5598)(4.8219,1.5801)(4.8225,1.6105)(4.8230,1.6325)(4.8236,1.6393)(4.8242,1.6443)(4.8248,1.6409)(4.8254,1.6342)(4.8259,1.6291)(4.8265,1.6359)(4.8271,1.6426)(4.8277,1.6477)(4.8282,1.6426)(4.8288,1.6376)(4.8294,1.6207)(4.8300,1.6055)(4.8305,1.6240)(4.8311,1.6359)(4.8317,1.6443)(4.8323,1.6528)(4.8329,1.6595)(4.8334,1.6663)(4.8340,1.6579)(4.8346,1.6511)(4.8357,1.6494)(4.8363,1.6477)(4.8369,1.6409)(4.8375,1.6308)(4.8380,1.6190)(4.8386,1.6139)(4.8392,1.6240)(4.8395,1.6308)(4.8400,1.6173)(4.8404,1.5920)(4.8409,1.6055)(4.8415,1.6088)(4.8421,1.6122)(4.8427,1.6156)(4.8432,1.6207)(4.8438,1.6308)(4.8442,1.6325)(4.8446,1.6240)(4.8450,1.6105)(4.8456,1.5987)(4.8461,1.5953)(4.8467,1.5936)(4.8473,1.5903)(4.8479,1.5869)(4.8484,1.5818)(4.8490,1.5801)(4.8496,1.5700)(4.8502,1.5582)(4.8508,1.5429)(4.8513,1.5379)(4.8519,1.5379)(4.8525,1.5362)(4.8531,1.5345)(4.8536,1.5193)(4.8542,1.5007)(4.8548,1.4855)(4.8554,1.5091)(4.8559,1.5328)(4.8565,1.5396)(4.8571,1.5379)(4.8577,1.5345)(4.8582,1.5260)(4.8588,1.5058)(4.8594,1.5024)(4.8600,1.5041)(4.8606,1.5058)(4.8611,1.5074)(4.8617,1.4922)(4.8623,1.4652)(4.8629,1.4415)(4.8631,1.4331)};
\end{axis}
\end{scope}
% ---------------- frame ----------------
\draw[line width=1.2pt, black!80] (10,0) -- (10,662.7) -- (665,662.7);
\draw[line width=1.2pt, black!80] (343.3,0) -- (343.3,662.7);
\draw[line width=1.2pt, black!80] (10,330) -- (665,330);
\end{tikzpicture}
\end{document}
